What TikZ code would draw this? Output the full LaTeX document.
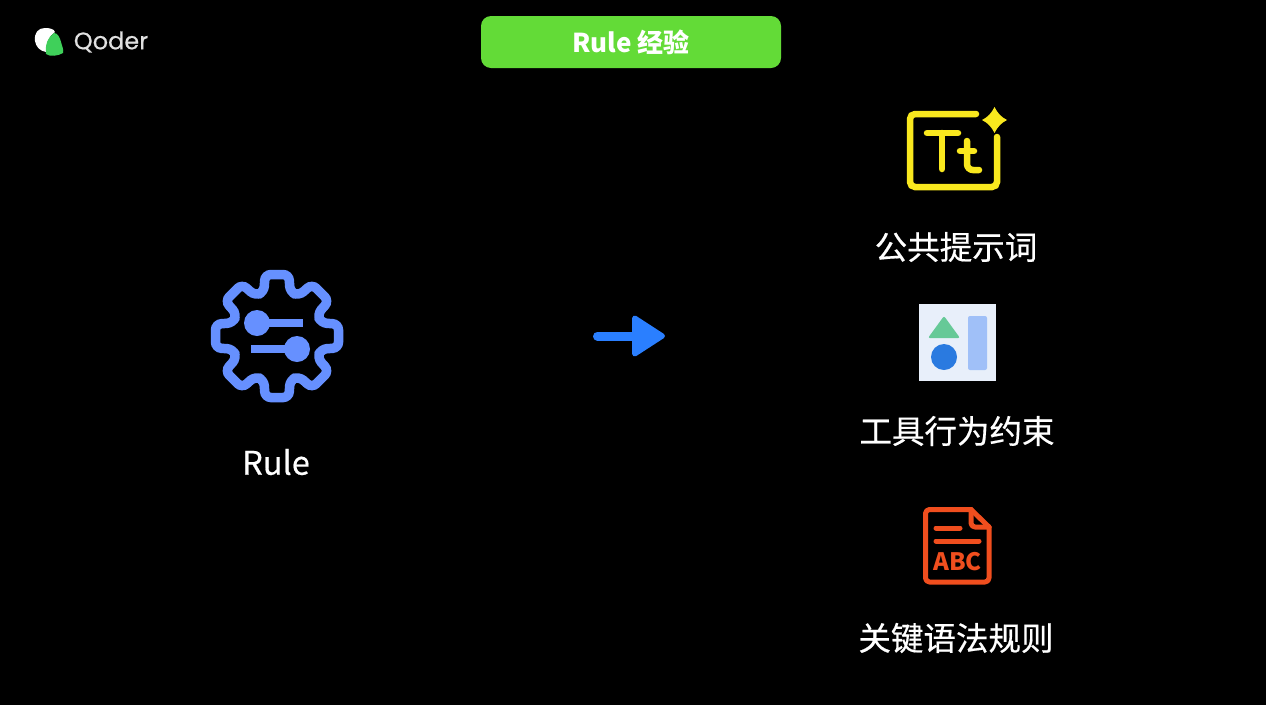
\documentclass[tikz,border=0pt]{standalone}
\usepackage{fontspec}
\setmainfont{Noto Sans CJK SC}
\newfontfamily\labelfont[FakeBold=0.5]{Noto Sans CJK SC}
\newfontfamily\logofont[FakeBold=0.4]{Poppins}
\usetikzlibrary{arrows.meta}
\definecolor{gearblue}{HTML}{6690FF}
\definecolor{arrowblue}{HTML}{2A7FFF}
\definecolor{badgegreen}{HTML}{63DB37}
\definecolor{logogreen}{HTML}{3FD05A}
\definecolor{promptyellow}{HTML}{F9E81E}
\definecolor{panelblue}{HTML}{E8EFFA}
\definecolor{shapegreen}{HTML}{66C997}
\definecolor{shapeblue}{HTML}{2A7AE0}
\definecolor{shapepale}{HTML}{A0C0F8}
\definecolor{docorange}{HTML}{F04E1E}
\tikzset{
  itemlabel/.style={align=center, text=white, font=\labelfont\fontsize{32.5}{36}\selectfont},
  gearline/.style={draw=gearblue, line width=9.5pt, rounded corners=6pt},
  sliderbar/.style={draw=gearblue, line width=7.5pt},
  promptline/.style={draw=promptyellow, line width=6.5pt, line cap=round},
  docline/.style={draw=docorange, line width=5pt, line cap=round, line join=round},
}
\begin{document}
\begin{tikzpicture}[x=1pt, y=-1pt]
\fill[black] (0,0) rectangle (1266,705);
\useasboundingbox (0,0) rectangle (1266,705);
\fill[white] (35,41) .. controls (34,33) and (38,28) .. (45,28) .. controls (50,28) and (54,29) .. (55,32) .. controls (49,36) and (46,43) .. (46,52) .. controls (40,51) and (36,47) .. (35,41) -- cycle;
\fill[logogreen] (54,33) .. controls (58,33) and (60,38) .. (61,42) .. controls (62,46) and (64,50) .. (63,53) .. controls (58,56) and (50,57) .. (46,54) .. controls (45,44) and (48,37) .. (54,33) -- cycle;
\node[text=white!88!black, font=\logofont\fontsize{24}{28}\selectfont] (logotext) at (111,42) {Qoder};
\node[fill=badgegreen, rounded corners=10pt, minimum width=300pt, minimum height=52pt, text=white, font=\bfseries\fontsize{26}{30}\selectfont] (titlebadge) at (631,42) {Rule 经验};

\begin{scope}[shift={(277,336)}]
\draw[gearline] (0,-61.5) \foreach \a [evaluate=\a as \b using \a-45] in {0,-45,...,-315} {
  -- ([rotate=\a]12,-61.5) -- ([rotate=\a]13,-44) -- ([rotate=\b]-13,-44) -- ([rotate=\b]-12,-61.5)} -- cycle;
\end{scope}
\draw[sliderbar] (257,323) -- (303,323);
\draw[sliderbar] (251,349) -- (297,349);
\fill[gearblue] (257,323) circle (13);
\fill[gearblue] (297,349) circle (13);
\node[itemlabel] (rulelabel) at (276,462) {Rule};

\coordinate (arrowstart) at (597.5,336);
\coordinate (arrowend) at (665,336);
\draw[arrowblue, line width=9pt, line cap=round, -{Triangle[round, length=35pt, width=44pt, line width=5pt]}] (arrowstart) -- (arrowend);

\draw[promptline, rounded corners=5pt] (976,114) -- (910,114) -- (910,187) -- (997,187) -- (997,137);
\draw[promptline] (927,133) -- (958,133);
\draw[promptline] (942,133) -- (942,169);
\draw[promptline] (960,151) -- (974,151);
\draw[promptline, rounded corners=6pt] (967,141) -- (967,170) -- (979,170);
\fill[promptyellow] (994.5,107) .. controls (997.5,113) and (1001,117) .. (1007,120) .. controls (1001,123) and (997.5,127) .. (994.5,133) .. controls (991.5,127) and (988,123) .. (982,120) .. controls (988,117) and (991.5,113) .. (994.5,107) -- cycle;
\node[itemlabel] (promptlabel) at (956,247) {公共提示词};

\fill[panelblue] (919,304) rectangle (996,381);
\fill[shapegreen, rounded corners=2pt] (944,316) -- (960,338) -- (928,338) -- cycle;
\fill[shapeblue] (944,357) circle (13);
\fill[shapepale, rounded corners=2pt] (968,316) rectangle (987,370);
\node[itemlabel] (toollabel) at (957,431) {工具行为约束};

\draw[docline, rounded corners=4pt] (971,509.5) -- (925.5,509.5) -- (925.5,582) -- (989,582) -- (989,527);
\draw[docline] (971,509.5) -- (989,527);
\draw[docline, rounded corners=4pt] (971,509.5) -- (971,527) -- (989,527);
\draw[docline] (936,528) -- (960,528);
\draw[docline] (936,541) -- (979,541);
\node[text=docorange, font=\bfseries\fontsize{24}{26}\selectfont] (abctext) at (957.5,561.5) {ABC};
\node[itemlabel] (syntaxlabel) at (956,638) {关键语法规则};
\end{tikzpicture}
\end{document}
